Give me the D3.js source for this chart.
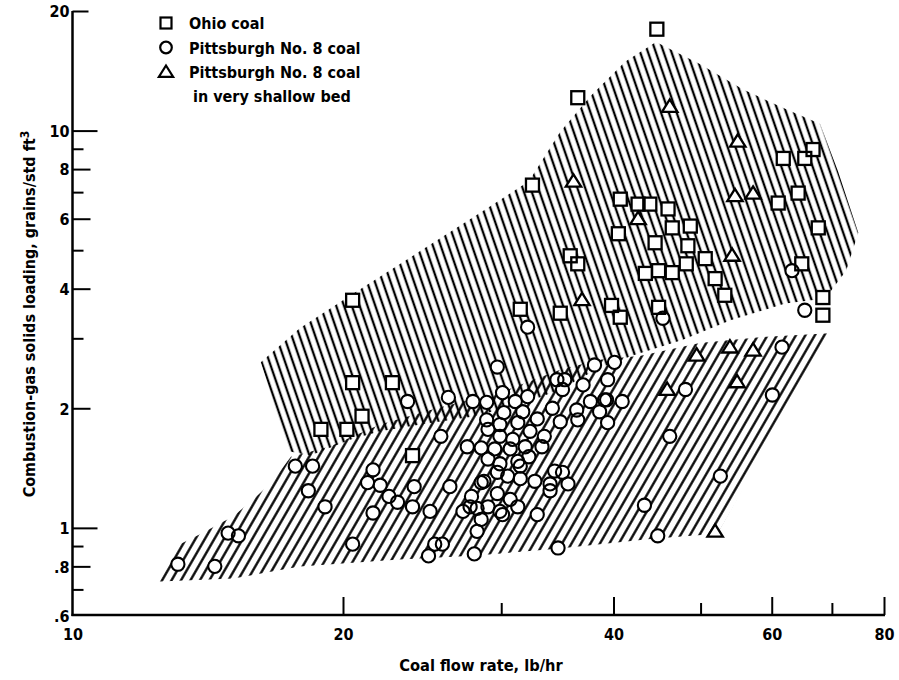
<!DOCTYPE html>
<html>
<head>
<meta charset="utf-8">
<script src="https://cdn.jsdelivr.net/npm/d3@7"></script>
<style>
  body { margin: 0; background: #fff; }
  svg { display: block; }
</style>
</head>
<body>
<svg id="chart" width="899" height="680"></svg>
<script>
// Coal flow rate (lb/hr) vs combustion-gas solids loading (grains/std ft^3)
const ohioCoal = [
  [44.7,18.0],[36.5,12.1],[32.5,7.29],[40.7,6.72],[42.6,6.53],[43.9,6.53],[46.0,6.35],
  [40.5,5.50],[46.5,5.69],[48.7,5.75],[44.5,5.22],[48.4,5.13],[50.6,4.76],[48.2,4.62],
  [43.4,4.37],[44.9,4.44],[46.5,4.39],[51.9,4.24],[53.2,3.85],[39.8,3.63],[40.7,3.39],
  [44.9,3.59],[61.8,8.51],[65.3,8.51],[66.7,8.96],[64.2,6.96],[61.0,6.57],[67.6,5.69],
  [64.8,4.62],[68.4,3.80],[68.4,3.43],[35.8,4.84],[36.5,4.62],[31.5,3.55],[34.9,3.47],
  [20.5,3.74],[20.5,2.32],[22.7,2.32],[21.0,1.91],[18.9,1.77],[20.2,1.77],[23.9,1.52]
];

const pittsburghCoal = [
  [13.1,0.81],[14.4,0.80],[14.9,0.97],[15.3,0.955],[17.7,1.43],[18.5,1.43],[18.3,1.24],
  [19.1,1.13],[20.5,0.91],[21.6,1.40],[21.3,1.30],[22.0,1.28],[22.5,1.20],[23.0,1.16],
  [23.9,1.13],[21.6,1.09],[24.0,1.27],[25.0,1.10],[24.9,0.85],[25.3,0.91],[25.8,0.91],
  [26.3,1.27],[25.7,1.70],[23.6,2.08],[26.2,2.13],[27.9,2.08],[28.9,2.07],[27.5,1.60],
  [28.5,1.59],
  [29.7,2.54],[30.1,2.19],[31.1,2.08],[32.1,2.14],[30.2,1.95],[31.7,1.96],[28.9,1.87],
  [29.9,1.82],[31.3,1.84],[32.9,1.88],[34.2,2.00],[34.9,1.85],[36.4,1.98],[34.6,2.36],
  [35.3,2.36],[35.1,2.23],[37.0,2.29],[38.1,2.57],[40.1,2.61],[39.4,2.36],[37.7,2.08],
  [39.3,2.10],[38.6,1.96],[36.5,1.87],[39.4,1.84],[29.0,1.77],[29.9,1.70],[30.9,1.67],
  [29.5,1.58],[30.7,1.58],[31.9,1.60],[33.3,1.60],[33.5,1.70],[32.3,1.75],[29.0,1.49],
  [29.9,1.45],[31.3,1.47],[32.2,1.51],[31.5,1.43],[29.7,1.38],[28.7,1.31],[30.5,1.35],
  [31.5,1.33],[32.7,1.31],[34.0,1.29],[34.4,1.39],[35.1,1.38],[35.6,1.29],[34.0,1.24],
  [28.5,1.30],[27.8,1.20],[29.7,1.22],[30.7,1.18],[27.7,1.13],[28.2,1.12],[29.0,1.13],
  [29.9,1.10],[31.3,1.13],[27.2,1.10],[28.5,1.05],[30.1,1.08],[32.9,1.08],[28.2,0.98],
  [28.0,0.86],[34.7,0.89],
  [32.1,3.20],[45.4,3.37],[65.3,3.53],[63.2,4.44],[61.6,2.85],[60.1,2.16],[46.2,1.70],
  [52.6,1.35],[43.3,1.14],[44.8,0.955],[48.1,2.23],[39.1,2.10],[40.9,2.08]
];

const shallowBed = [
  [46.2,11.5],[55.0,9.4],[42.6,6.0],[54.6,6.85],[57.2,6.95],[54.2,4.85],[36.9,3.75],
  [36.1,7.45],[49.5,2.72],[53.9,2.85],[57.2,2.80],[45.9,2.23],[54.9,2.33],[51.9,0.98]
];

// Hatched envelopes (flow rate, loading)
const ohioEnvelope = [
  [16.2,2.61],[17.9,3.18],[20.4,3.85],[24.4,4.98],[28.4,6.20],[32.2,7.46],[34.9,9.94],
  [37.7,12.2],[41.2,14.9],[44.6,16.7],[49.9,14.7],[55.7,12.7],[62.9,11.2],[67.9,10.4],
  [71.1,7.90],[74.9,5.53],[72.6,4.44],[68.8,3.78],[62.1,3.67],[54.0,3.33],[47.7,2.97],
  [42.1,2.72],[38.6,2.53],[34.9,2.23],[31.5,2.04],[27.7,1.90],[24.4,1.82],[22.0,1.75],
  [20.4,1.67],[18.4,1.52],[17.4,1.56]
];

const pittsburghEnvelope = [
  [12.5,0.733],[13.2,0.912],[13.9,0.966],[15.1,1.07],[15.9,1.18],[16.7,1.31],[17.5,1.51],
  [19.3,1.60],[22.0,1.82],[25.6,2.01],[29.9,2.19],[34.9,2.50],[38.6,2.65],[42.9,2.71],
  [49.9,2.92],[58.2,3.02],[69.6,3.09],[52.2,0.966],[44.2,0.939],[34.6,0.886],[27.9,0.851],
  [23.1,0.832],[17.9,0.799],[15.1,0.746]
];

const xLabelTicks = [20, 40, 60, 80];
const xMinorTicks = [30, 50, 70];
const yLongTicks = [20, 10, 1];
const yMidTicks = [8, 6, 4, 2, 0.8];
const yShortTicks = [9, 7, 5, 3, 0.9, 0.7];
const yLabelText = new Map([[20,"20"],[10,"10"],[8,"8"],[6,"6"],[4,"4"],[2,"2"],[1,"1"],[0.8,".8"],[0.6,".6"]]);

const legendItems = [
  { shape: "square", lines: ["Ohio coal"] },
  { shape: "circle", lines: ["Pittsburgh No. 8 coal"] },
  { shape: "triangle", lines: ["Pittsburgh No. 8 coal", "in very shallow bed"] }
];

const FONT = "'DejaVu Sans Condensed', 'DejaVu Sans', sans-serif";

const svg = d3.select("#chart");
const x = d3.scaleLog().domain([10, 80]).range([72.5, 884]);
const y = d3.scaleLog().domain([0.6, 20]).range([616, 11]);

// ---- hatch patterns ----
const defs = svg.append("defs");
function hatch(id, angle, gap, width) {
  const p = defs.append("pattern")
    .attr("id", id)
    .attr("patternUnits", "userSpaceOnUse")
    .attr("width", gap).attr("height", 40)
    .attr("patternTransform", `rotate(${angle})`);
  p.append("line")
    .attr("x1", gap / 2).attr("x2", gap / 2)
    .attr("y1", -2).attr("y2", 42)
    .attr("stroke", "#000").attr("stroke-width", width);
}
hatch("hatch-ohio", -19, 7.4, 2.3);
hatch("hatch-pitt", 30, 8.2, 2.3);

const area = d3.line().x(d => x(d[0])).y(d => y(d[1])).curve(d3.curveLinearClosed);

svg.append("path").datum(pittsburghEnvelope).attr("d", area)
  .attr("fill", "url(#hatch-pitt)");
svg.append("path").datum(ohioEnvelope).attr("d", area)
  .attr("fill", "url(#hatch-ohio)");

// ---- markers ----
const sq = 13, cr = 6.6, tri = 14;
const triPath = s => `M0,${-s * 0.5}L${s * 0.55},${s * 0.38}L${-s * 0.55},${s * 0.38}Z`;

function drawMarkers(g, data, shape, pass) {
  const fill = pass === "fill" ? "#fff" : "none";
  const stroke = pass === "fill" ? "none" : "#000";
  if (shape === "circle") {
    g.selectAll(null).data(data).join("circle")
      .attr("cx", d => x(d[0])).attr("cy", d => y(d[1])).attr("r", cr)
      .attr("fill", fill).attr("stroke", stroke).attr("stroke-width", 2.1);
  } else if (shape === "square") {
    g.selectAll(null).data(data).join("rect")
      .attr("x", d => x(d[0]) - sq / 2).attr("y", d => y(d[1]) - sq / 2)
      .attr("width", sq).attr("height", sq)
      .attr("fill", fill).attr("stroke", stroke).attr("stroke-width", 2.3);
  } else {
    g.selectAll(null).data(data).join("path")
      .attr("transform", d => `translate(${x(d[0])},${y(d[1])})`)
      .attr("d", triPath(tri))
      .attr("fill", fill).attr("stroke", stroke).attr("stroke-width", 2.3)
      .attr("stroke-linejoin", "miter");
  }
}
const fillLayer = svg.append("g");
const strokeLayer = svg.append("g");
[[pittsburghCoal, "circle"], [ohioCoal, "square"], [shallowBed, "triangle"]].forEach(([data, shape]) => {
  drawMarkers(fillLayer, data, shape, "fill");
  drawMarkers(strokeLayer, data, shape, "stroke");
});

// ---- axes ----
function styleAxis(g, fontSize) {
  g.selectAll(".tick line").attr("stroke", "#000").attr("stroke-width", 2);
  g.selectAll("text").attr("font-family", FONT).attr("font-size", fontSize)
    .attr("font-weight", "bold").attr("fill", "#000");
  g.select(".domain").remove();
}

// y axis ticks point inward (to the right)
const yAxes = [
  { values: yLongTicks, len: { 20: 16, 10: 25, 1: 25 }, labels: true },
  { values: yMidTicks, len: 18, labels: true },
  { values: yShortTicks, len: 11, labels: false },
  { values: [0.6], len: 0, labels: true }
];
yAxes.forEach(a => {
  const g = svg.append("g").attr("transform", "translate(72.5,0)")
    .call(d3.axisLeft(y).tickValues(a.values).tickSize(-18).tickSizeOuter(0).tickPadding(4)
      .tickFormat(d => a.labels ? yLabelText.get(d) : ""));
  g.selectAll(".tick line").attr("x2", d => typeof a.len === "number" ? a.len : a.len[d]);
  styleAxis(g, 16);
  g.selectAll("text").attr("x", -3).attr("dy", "0.36em");
});

// x axis ticks point inward (upward)
const gx1 = svg.append("g").attr("transform", "translate(0,615)")
  .call(d3.axisBottom(x).tickValues(xLabelTicks).tickSize(-18).tickSizeOuter(0).tickPadding(12)
    .tickFormat(d3.format("d")));
styleAxis(gx1, 16);
gx1.selectAll("text").attr("y", 25).attr("dy", 0);
const gx0 = svg.append("g").attr("transform", "translate(0,615)")
  .call(d3.axisBottom(x).tickValues([10]).tickSize(0).tickSizeOuter(0).tickFormat(d3.format("d")));
styleAxis(gx0, 16);
gx0.selectAll("text").attr("y", 25).attr("dy", 0);
const gx2 = svg.append("g").attr("transform", "translate(0,615)")
  .call(d3.axisBottom(x).tickValues(xMinorTicks).tickSize(-12).tickSizeOuter(0).tickFormat(""));
styleAxis(gx2, 16);

// axis lines
svg.append("line").attr("x1", x(10)).attr("x2", x(10)).attr("y1", y(20)).attr("y2", 616)
  .attr("stroke", "#000").attr("stroke-width", 2.5);
svg.append("line").attr("x1", x(10) - 1).attr("x2", x(80) + 1).attr("y1", 615).attr("y2", 615)
  .attr("stroke", "#000").attr("stroke-width", 2.5);

// ---- axis titles ----
svg.append("text")
  .attr("x", 481).attr("y", 671).attr("text-anchor", "middle")
  .attr("font-family", FONT).attr("font-size", 16.3).attr("font-weight", "bold")
  .text("Coal flow rate, lb/hr");

const yt = svg.append("text")
  .attr("transform", "translate(35,314) rotate(-90)")
  .attr("text-anchor", "middle")
  .attr("font-family", FONT).attr("font-size", 16).attr("font-weight", "bold");
yt.append("tspan").text("Combustion-gas solids loading, grains/std ft");
yt.append("tspan").attr("dy", -6).attr("font-size", 12).text("3");

// ---- legend ----
const legend = svg.append("g");
legendItems.forEach((item, i) => {
  const cy = 23 + i * 24.5;
  const g = legend.append("g").attr("transform", `translate(166,${cy})`);
  if (item.shape === "square") {
    g.append("rect").attr("x", -5.5).attr("y", -5.5).attr("width", 11).attr("height", 11)
      .attr("fill", "#fff").attr("stroke", "#000").attr("stroke-width", 2.2);
  } else if (item.shape === "circle") {
    g.append("circle").attr("r", 5.8).attr("fill", "#fff").attr("stroke", "#000").attr("stroke-width", 2.2);
  } else {
    g.append("path").attr("d", triPath(13)).attr("fill", "#fff").attr("stroke", "#000").attr("stroke-width", 2.2);
  }
  item.lines.forEach((t, j) => {
    legend.append("text")
      .attr("x", j === 0 ? 189 : 193).attr("y", cy + 6 + j * 24)
      .attr("font-family", FONT).attr("font-size", 16).attr("font-weight", "bold")
      .text(t);
  });
});
</script>
</body>
</html>
